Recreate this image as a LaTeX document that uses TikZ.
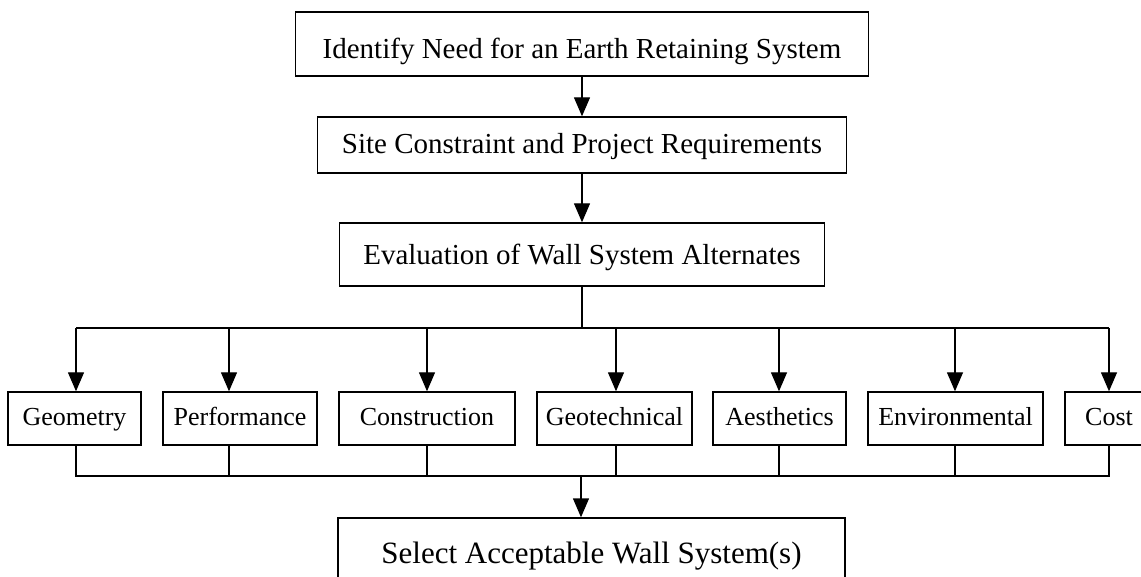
\documentclass[tikz,border=0pt]{standalone}
\usepackage{fontspec}
\setmainfont{Liberation Serif}
\usetikzlibrary{arrows.meta}
\begin{document}
\begin{tikzpicture}[x=1pt,y=-1pt,
  box/.style={draw,line width=1.4pt,inner xsep=0pt,inner ysep=0pt,font=\fontsize{29}{34}\selectfont},
  small/.style={box,font=\fontsize{26}{30}\selectfont,text height=33pt,text depth=20pt},
  arr/.style={line width=1.4pt,-{Triangle[width=16pt,length=19pt]}},
  ln/.style={line width=1.4pt}]
\useasboundingbox (0,0) rectangle (1141,577);
\clip (0,0) rectangle (1141,577);
% main column
\node[box,minimum width=573pt,text height=47pt,text depth=17pt] (top) at (582,44) {Identify Need for an Earth Retaining System};
\node[box,minimum width=529pt,text height=37pt,text depth=19pt] (site) at (582,145) {Site Constraint and Project Requirements};
\node[box,minimum width=485pt,text height=42pt,text depth=21pt] (eval) at (582,254.5) {Evaluation of Wall System Alternates};
% criteria boxes
\node[small,minimum width=133pt] (geo) at (74.5,418.5) {Geometry};
\node[small,minimum width=154pt] (perf) at (240,418.5) {Performance};
\node[small,minimum width=176pt] (cons) at (427,418.5) {Construction};
\node[small,minimum width=155pt] (gtech) at (614.5,418.5) {Geotechnical};
\node[small,minimum width=133pt] (aes) at (779.5,418.5) {Aesthetics};
\node[small,minimum width=175pt] (env) at (955.5,418.5) {Environmental};
\node[small,minimum width=88pt] (cost) at (1109,418.5) {Cost};
% final box
\node[box,font=\fontsize{31}{36}\selectfont,minimum width=507pt,text height=45pt,text depth=37pt] (sel) at (591.5,559) {Select Acceptable Wall System(s)};
% bus coordinates
\coordinate (bustop) at (582,328);
\coordinate (busbot) at (581,476);
% connectors
\draw[arr] (top) -- (site);
\draw[arr] (site) -- (eval);
\draw[ln] (eval.south) -- (bustop);
\draw[ln] ([xshift=1.5pt]geo.north |- bustop) -- (cost.north |- bustop);
\draw[arr] ([xshift=1.5pt]geo.north |- bustop) -- ([xshift=1.5pt]geo.north);
\draw[arr] ([xshift=-11pt]perf.north |- bustop) -- ([xshift=-11pt]perf.north);
\draw[arr] (cons.north |- bustop) -- (cons.north);
\draw[arr] ([xshift=1.5pt]gtech.north |- bustop) -- ([xshift=1.5pt]gtech.north);
\draw[arr] ([xshift=-0.5pt]aes.north |- bustop) -- ([xshift=-0.5pt]aes.north);
\draw[arr] ([xshift=-0.5pt]env.north |- bustop) -- ([xshift=-0.5pt]env.north);
\draw[arr] (cost.north |- bustop) -- (cost.north);
% lower bus
\draw[ln] ([xshift=1.5pt]geo.south) -- ([xshift=1.5pt]geo.south |- busbot) -- (cost.south |- busbot) -- (cost.south);
\draw[ln] ([xshift=-11pt]perf.south) -- ([xshift=-11pt]perf.south |- busbot);
\draw[ln] (cons.south) -- (cons.south |- busbot);
\draw[ln] ([xshift=1.5pt]gtech.south) -- ([xshift=1.5pt]gtech.south |- busbot);
\draw[ln] ([xshift=-0.5pt]aes.south) -- ([xshift=-0.5pt]aes.south |- busbot);
\draw[ln] ([xshift=-0.5pt]env.south) -- ([xshift=-0.5pt]env.south |- busbot);
\draw[arr] (busbot) -- (busbot |- sel.north);
\end{tikzpicture}
\end{document}
